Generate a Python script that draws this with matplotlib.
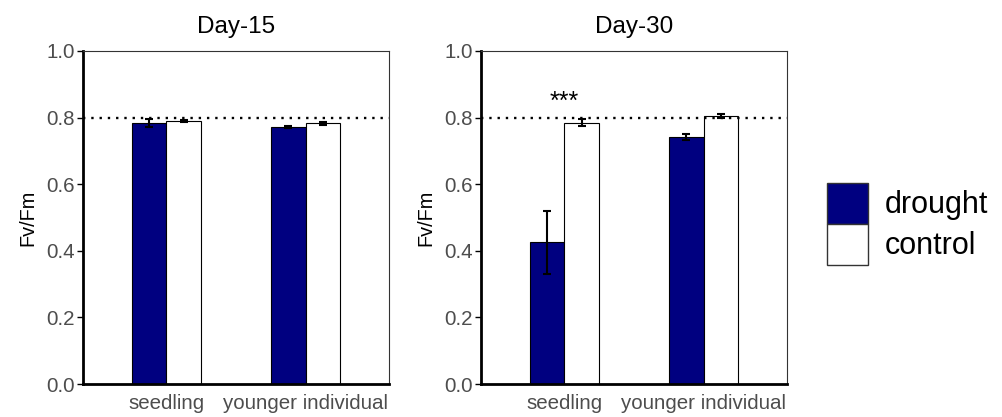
import matplotlib.pyplot as plt
import numpy as np
from matplotlib.patches import Patch

plt.rcParams['font.family'] = ['Liberation Sans', 'DejaVu Sans']

categories = ['seedling', 'younger individual']
panels = ['Day-15', 'Day-30']
drought_mean = {'Day-15': [0.783, 0.771], 'Day-30': [0.425, 0.742]}
drought_err = {'Day-15': [0.012, 0.003], 'Day-30': [0.095, 0.008]}
control_mean = {'Day-15': [0.790, 0.783], 'Day-30': [0.785, 0.806]}
control_err = {'Day-15': [0.004, 0.004], 'Day-30': [0.010, 0.006]}
sig_marks = {'Day-30': [(0, '***')]}
ref_line = 0.8

fig = plt.figure(figsize=(10.03, 4.17), dpi=100)
lefts = [0.0828, 0.4796]
x = np.arange(len(categories))
w = 0.25
tick_gray = '#4d4d4d'

for left, name in zip(lefts, panels):
    ax = fig.add_axes([left, 0.0791, 0.305, 0.7986])
    ax.bar(x - w / 2, drought_mean[name], w, color='#000080', edgecolor='black', linewidth=0.8)
    ax.bar(x + w / 2, control_mean[name], w, color='white', edgecolor='black', linewidth=0.8)
    ax.errorbar(x - w / 2, drought_mean[name], yerr=drought_err[name], fmt='none',
                ecolor='black', elinewidth=1.5, capsize=3, capthick=1.5)
    ax.errorbar(x + w / 2, control_mean[name], yerr=control_err[name], fmt='none',
                ecolor='black', elinewidth=1.5, capsize=3, capthick=1.5)
    ax.axhline(ref_line, color='black', linestyle=(0, (1, 2.5)), linewidth=1.7)
    for i, mark in sig_marks.get(name, []):
        ax.text(i, 0.848, mark, ha='center', va='center', fontsize=18)
    ax.set_xlim(-0.6, 1.6)
    ax.set_ylim(0, 1.0)
    ax.set_yticks([0, 0.2, 0.4, 0.6, 0.8, 1.0])
    ax.set_yticklabels(['0.0', '0.2', '0.4', '0.6', '0.8', '1.0'])
    ax.set_xticks(x)
    ax.set_xticklabels(categories)
    ax.tick_params(axis='x', length=0, pad=7, labelsize=14.8, labelcolor=tick_gray)
    ax.tick_params(axis='y', length=4, width=1, pad=2, labelsize=14.8, labelcolor=tick_gray)
    ax.spines['left'].set_linewidth(2)
    ax.spines['bottom'].set_linewidth(2)
    ax.spines['top'].set_linewidth(0.8)
    ax.spines['right'].set_linewidth(0.8)
    ax.spines['top'].set_color('#333333')
    ax.spines['right'].set_color('#333333')
    ax.set_ylabel('Fv/Fm', fontsize=14.3, labelpad=6)
    ax.set_title(name, fontsize=17.5, pad=13)

handles = [Patch(facecolor='#000080', edgecolor='#333333', label='drought'),
           Patch(facecolor='white', edgecolor='#333333', label='control')]
fig.legend(handles=handles, loc='center left', bbox_to_anchor=(0.8245, 0.463),
           frameon=False, fontsize=22, handlelength=1.34, handleheight=1.686,
           labelspacing=0.0, handletextpad=0.55, borderpad=0, borderaxespad=0)

fig.savefig('out.png', dpi=100)
